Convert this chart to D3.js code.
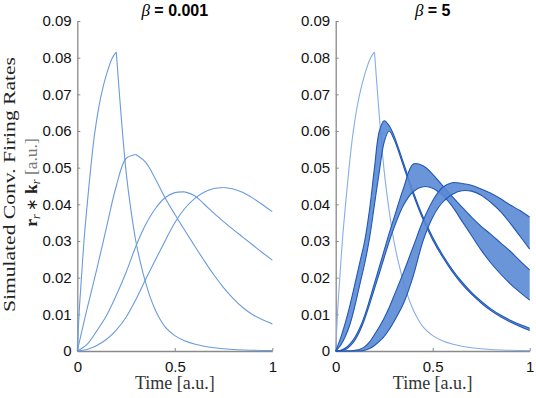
<!DOCTYPE html>
<html><head><meta charset="utf-8">
<script src="https://cdn.jsdelivr.net/npm/d3@7/dist/d3.min.js"></script>
<style>body{margin:0;background:#fff}svg{display:block}</style>
</head><body>
<svg id="c" width="536" height="398"></svg>
<script>
// ---------- data ----------
const panelBetas = ["0.001", "5"];
const yTicks = [0, 0.01, 0.02, 0.03, 0.04, 0.05, 0.06, 0.07, 0.08, 0.09];
const yTickLabels = ["0", "0.01", "0.02", "0.03", "0.04", "0.05", "0.06", "0.07", "0.08", "0.09"];
const xTicks = [0, 0.5, 1];
const xTickLabels = ["0", "0.5", "1"];

// fast response (shared by both panels)
const tFast = [0, 0.01, 0.02, 0.035, 0.05, 0.07, 0.09, 0.12, 0.15, 0.18, 0.2,
  0.225, 0.25, 0.275, 0.3, 0.325, 0.35, 0.375, 0.4, 0.425, 0.45, 0.5, 0.55, 0.6, 0.65, 0.7, 0.8, 0.9, 1];
const rFast = [0, 0.011, 0.019, 0.0305, 0.0395, 0.0505, 0.0597, 0.0692, 0.0755, 0.0800, 0.0815,
  0.0640, 0.0490, 0.0385, 0.0300, 0.0238, 0.0187, 0.0145, 0.0112, 0.0086, 0.0066, 0.0042, 0.0028, 0.0019, 0.0013, 0.0009, 0.0004, 0.0002, 0.0001];

// beta = 0.001 slower responses
const tGrid = [0, 0.05, 0.1, 0.15, 0.2, 0.25, 0.3, 0.35, 0.4, 0.45, 0.5, 0.55, 0.6, 0.65, 0.7, 0.75, 0.8, 0.85, 0.9, 0.95, 1];
const r2 = [0, 0.0115, 0.0223, 0.0338, 0.0450, 0.0525, 0.0536, 0.0515, 0.0470, 0.0418, 0.0373, 0.0330, 0.0288, 0.0247, 0.0208, 0.0173, 0.0143, 0.0118, 0.0099, 0.0085, 0.0074];
const r3 = [0, 0.0018, 0.0055, 0.0097, 0.0152, 0.0214, 0.0285, 0.0344, 0.0388, 0.0418, 0.0432, 0.0434, 0.0424, 0.0401, 0.0376, 0.0353, 0.0331, 0.0310, 0.0289, 0.0268, 0.0248];
const r4 = [0, 0.0004, 0.0015, 0.0032, 0.0057, 0.0092, 0.0140, 0.0195, 0.0248, 0.0300, 0.0350, 0.0388, 0.0415, 0.0433, 0.0443, 0.0446, 0.0442, 0.0432, 0.0417, 0.0399, 0.0380];

// beta = 5 bands (upper / lower envelopes)
const tBand = [0, 0.025, 0.05, 0.075, 0.1, 0.125, 0.15, 0.175, 0.2, 0.225, 0.25, 0.275, 0.3,
  0.35, 0.4, 0.45, 0.5, 0.55, 0.6, 0.65, 0.7, 0.75, 0.8, 0.85, 0.9, 0.95, 1];
const bandAUpper = [0, 0.0035, 0.0078, 0.0128, 0.0185, 0.0243, 0.0302, 0.0388, 0.0500, 0.0600, 0.0628, 0.0615, 0.0588,
  0.0512, 0.0434, 0.0366, 0.0310, 0.0263, 0.0223, 0.0189, 0.0160, 0.0136, 0.0115, 0.0098, 0.0084, 0.0072, 0.0062];
const bandALower = [0, 0.0015, 0.0040, 0.0075, 0.0125, 0.0183, 0.0240, 0.0310, 0.0400, 0.0490, 0.0570, 0.0600, 0.0578,
  0.0503, 0.0426, 0.0359, 0.0303, 0.0257, 0.0217, 0.0183, 0.0155, 0.0131, 0.0110, 0.0093, 0.0079, 0.0067, 0.0056];
const bandBUpper = [0, 0.0002, 0.0008, 0.0020, 0.0038, 0.0064, 0.0098, 0.0140, 0.0185, 0.0230, 0.0275, 0.0320, 0.0362,
  0.0445, 0.0510, 0.0505, 0.0482, 0.0452, 0.0422, 0.0393, 0.0365, 0.0340, 0.0318, 0.0295, 0.0272, 0.0246, 0.0221];
const bandBLower = [0, 0.0001, 0.0004, 0.0014, 0.0030, 0.0055, 0.0088, 0.0128, 0.0170, 0.0212, 0.0255, 0.0297, 0.0335,
  0.0398, 0.0435, 0.0448, 0.0444, 0.0425, 0.0395, 0.0355, 0.0315, 0.0275, 0.0240, 0.0210, 0.0183, 0.0160, 0.0139];
const bandCUpper = [0, 0, 0, 0, 0.0002, 0.0005, 0.0012, 0.0025, 0.0045, 0.0066, 0.0090, 0.0118, 0.0150,
  0.0215, 0.0285, 0.0355, 0.0410, 0.0446, 0.0459, 0.0457, 0.0452, 0.0442, 0.0430, 0.0415, 0.0398, 0.0383, 0.0365];
const bandCLower = [0, 0, 0, 0, 0, 0, 0.0002, 0.0007, 0.0015, 0.0026, 0.0040, 0.0058, 0.0080,
  0.0130, 0.0205, 0.0300, 0.0365, 0.0405, 0.0427, 0.0437, 0.0436, 0.0425, 0.0405, 0.0380, 0.0348, 0.0313, 0.0278];

// ---------- drawing ----------
const svg = d3.select("#c");
const y = d3.scaleLinear().domain([0, 0.09]).range([351, 21]);
const panels = [
  d3.scaleLinear().domain([0, 1]).range([77.3, 272.3]),
  d3.scaleLinear().domain([0, 1]).range([335.7, 529.7])
];
const curve = d3.curveCatmullRom.alpha(0.5);
const sans = "'Liberation Sans', Arial, Helvetica, sans-serif";
const serif = "'Liberation Serif', 'Times New Roman', serif";

function drawLine(g, x, ts, vs, color, width) {
  const pts = ts.map((t, i) => [t, vs[i]]);
  // split at the maximum so a sharp peak stays sharp
  let im = d3.maxIndex(vs);
  const segs = [pts.slice(0, im + 1), pts.slice(im)];
  const line = d3.line().x(d => x(d[0])).y(d => y(d[1])).curve(curve);
  segs.forEach(s => {
    if (s.length > 1) g.append("path").attr("d", line(s)).attr("fill", "none")
      .attr("stroke", color).attr("stroke-width", width).attr("stroke-linejoin", "round");
  });
}

function drawBand(g, x, ts, up, lo) {
  const data = ts.map((t, i) => ({t, u: up[i], l: lo[i]}));
  const area = d3.area().x(d => x(d.t)).y0(d => y(d.l)).y1(d => y(d.u)).curve(curve);
  g.append("path").attr("d", area(data)).attr("fill", "#5a8ad4").attr("fill-opacity", 0.9);
  const lu = d3.line().x(d => x(d.t)).y(d => y(d.u)).curve(curve);
  const ll = d3.line().x(d => x(d.t)).y(d => y(d.l)).curve(curve);
  g.append("path").attr("d", lu(data)).attr("fill", "none").attr("stroke", "#2157b6").attr("stroke-width", 1.1);
  g.append("path").attr("d", ll(data)).attr("fill", "none").attr("stroke", "#2157b6").attr("stroke-width", 1.1);
}

panels.forEach((x, p) => {
  const g = svg.append("g");
  // axes
  const ay = g.append("g").attr("transform", `translate(${x(0)},0)`)
    .call(d3.axisLeft(y).tickValues(yTicks).tickFormat((d, i) => yTickLabels[i])
      .tickSizeInner(-3).tickSizeOuter(0).tickPadding(5.6));
  const ax = g.append("g").attr("transform", `translate(0,${y(0)})`)
    .call(d3.axisBottom(x).tickValues(xTicks).tickFormat((d, i) => xTickLabels[i])
      .tickSizeInner(-3).tickSizeOuter(0).tickPadding(10));
  [ay, ax].forEach(a => {
    a.select(".domain").attr("stroke", "#8a8a8a").attr("stroke-width", 1.3);
    a.selectAll(".tick line").attr("stroke", "#8a8a8a");
    a.selectAll("text").attr("font-family", sans).attr("font-size", 15).attr("fill", "#111");
  });

  // curves
  if (p === 0) {
    const c = "#6a9bdb";
    drawLine(g, x, tFast, rFast, c, 1.1);
    drawLine(g, x, tGrid, r2, c, 1.1);
    drawLine(g, x, tGrid, r3, c, 1.1);
    drawLine(g, x, tGrid, r4, c, 1.1);
  } else {
    drawLine(g, x, tFast, rFast, "#86aee4", 1.1);
    drawBand(g, x, tBand, bandAUpper, bandALower);
    drawBand(g, x, tBand, bandBUpper, bandBLower);
    drawBand(g, x, tBand, bandCUpper, bandCLower);
  }

  // title
  const tt = g.append("text").attr("x", x(0.5)).attr("y", 15.5).attr("text-anchor", "middle").attr("fill", "#000");
  tt.append("tspan").attr("font-family", serif).attr("font-style", "italic").attr("font-size", 17).text("β");
  tt.append("tspan").attr("font-family", sans).attr("font-weight", "bold").attr("font-size", 16).text(" = " + panelBetas[p]);

  // x label
  g.append("text").attr("x", x(0.5)).attr("y", 389).attr("text-anchor", "middle")
    .attr("font-family", serif).attr("font-size", 18).attr("fill", "#333").text("Time [a.u.]");
});

// y label (two lines)
svg.append("text").attr("transform", "translate(15,184.5) rotate(-90)").attr("text-anchor", "middle")
  .attr("font-family", serif).attr("font-size", 17).attr("fill", "#222")
  .attr("textLength", 255).attr("lengthAdjust", "spacingAndGlyphs")
  .text("Simulated Conv. Firing Rates");
const l2 = svg.append("text").attr("transform", "translate(37,182.5) rotate(-90)").attr("text-anchor", "middle")
  .attr("font-family", serif).attr("font-size", 17.5).attr("fill", "#222");
l2.append("tspan").attr("font-weight", "bold").text("r");
l2.append("tspan").attr("font-style", "italic").attr("font-size", 12).attr("dy", 3).text("r");
l2.append("tspan").attr("dy", -3).attr("font-size", 15).text(" ∗ ");
l2.append("tspan").attr("font-weight", "bold").text("k");
l2.append("tspan").attr("font-style", "italic").attr("font-size", 12).attr("dy", 3).text("r");
l2.append("tspan").attr("dy", -3).attr("fill", "#7a7a7a").text(" [a.u.]");
</script>
</body></html>
